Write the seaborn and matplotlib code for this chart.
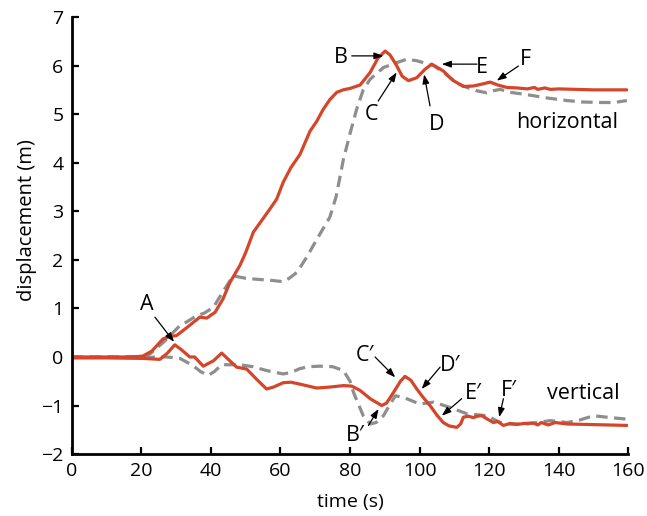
import matplotlib
matplotlib.use("Agg")
import matplotlib.pyplot as plt
import seaborn as sns

# horizontal displacement, solid red series
t_h_red = [0, 10, 18, 20.5, 23, 26.2, 28, 30.1, 33, 36.8, 38.8, 41.2, 43.5, 45.5,
           48.3, 50, 52.2, 55, 57, 58.9, 60.8, 63, 65.6, 68.5, 70.4, 72.3, 74.2,
           76.2, 78, 80, 82.9, 85.8, 88, 90.1, 91.5, 93.4, 95, 96.8, 99.2, 101.5,
           103.5, 106.8, 109.5, 112.6, 115.5, 118, 120.3, 122.5, 125.1, 128, 131,
           133, 134, 136, 137.6, 140, 145, 150, 155, 159.6]
h_red = [0, 0, 0, 0.02, 0.12, 0.37, 0.42, 0.44, 0.6, 0.82, 0.80, 0.92, 1.2, 1.54,
         1.88, 2.15, 2.57, 2.85, 3.05, 3.25, 3.6, 3.9, 4.17, 4.65, 4.85, 5.1, 5.3,
         5.45, 5.5, 5.53, 5.6, 5.86, 6.15, 6.30, 6.22, 6.0, 5.78, 5.69, 5.75, 5.92,
         6.03, 5.89, 5.7, 5.57, 5.58, 5.62, 5.66, 5.6, 5.55, 5.54, 5.52,
         5.55, 5.51, 5.54, 5.51, 5.52, 5.51, 5.5, 5.5, 5.5]

# horizontal displacement, dashed grey series
t_h_grey = [0, 10, 20, 22.4, 26.3, 31, 33, 35.9, 38, 40.7, 43.6, 46.4, 50, 53.1,
            57, 60.8, 62.5, 64.7, 67.5, 69.4, 71.5, 74.2, 76, 78.1, 80, 81.9, 83.8,
            85.8, 89.6, 93.4, 96.3, 99.2, 104, 106.5, 108.8, 111, 113.6, 116.5,
            119.3, 121, 123.2, 126, 129, 132.7, 137, 142.4, 147, 151.9, 156, 159.6]
h_grey = [0, 0, 0.01, 0.06, 0.3, 0.64, 0.72, 0.85, 0.9, 1.02, 1.36, 1.67, 1.62, 1.60,
          1.58, 1.55, 1.62, 1.74, 2.05, 2.29, 2.55, 2.88, 3.3, 4.07, 4.6, 5.1, 5.5,
          5.72, 5.96, 6.06, 6.13, 6.10, 6.0, 5.88, 5.75, 5.63, 5.55, 5.48,
          5.44, 5.48, 5.51, 5.45, 5.42, 5.38, 5.33, 5.28, 5.25, 5.24, 5.24, 5.28]

# vertical displacement, solid red series
t_v_red = [0, 10, 20.5, 25.3, 27.5, 29.6, 31.5, 33.9, 35.3, 37.8, 40.7, 43.1, 45,
           47.4, 50.3, 53, 56, 58, 60.8, 63, 65.6, 68, 70.4, 74.2, 78.1, 80.5, 82.9,
           85.8, 89.1, 90.5, 92.5, 94.5, 95.8, 97.5, 99.2, 101, 103, 105, 106.8,
           108.5, 110.7, 111.8, 112.6, 114, 115.5, 116.5, 117.9, 119.5, 121.2,
           122.5, 124.1, 126, 128, 130, 132.7, 134, 135, 137, 139, 142.4, 148,
           154, 159.6]
v_red = [-0.02, -0.02, -0.03, -0.05, 0.08, 0.25, 0.15, 0.0, 0.0, -0.19, -0.08, 0.08,
         -0.05, -0.21, -0.25, -0.45, -0.66, -0.62, -0.53, -0.52, -0.56, -0.6, -0.64,
         -0.62, -0.59, -0.6, -0.69, -0.86, -1.0, -0.95, -0.73, -0.5, -0.40, -0.48,
         -0.66, -0.83, -1.0, -1.2, -1.35, -1.42, -1.45, -1.38, -1.24, -1.22, -1.25,
         -1.22, -1.21, -1.28, -1.35, -1.33, -1.41, -1.37, -1.39, -1.37, -1.36,
         -1.40, -1.35, -1.40, -1.35, -1.38, -1.39, -1.40, -1.41]

# vertical displacement, dashed grey series
t_v_grey = [0, 10, 20, 27.2, 31.1, 34.9, 37, 39.2, 41, 43.1, 48.3, 52, 56, 60.8, 63,
            65.6, 68, 71.4, 75, 78.1, 80, 81, 83.8, 85.8, 87.5, 89.6, 91.3, 93,
            94.5, 96.3, 100.1, 104, 108.8, 113.6, 119.3, 123.2, 126, 130.8, 134,
            137.6, 140, 142.4, 146, 150, 155, 159.6]
v_grey = [-0.01, -0.01, -0.01, 0.0, -0.03, -0.18, -0.3, -0.38, -0.3, -0.16, -0.16,
          -0.2, -0.28, -0.35, -0.32, -0.24, -0.2, -0.19, -0.2, -0.28, -0.5, -0.73,
          -1.21, -1.38, -1.35, -1.21, -1.0, -0.80, -0.82, -0.86, -0.97, -0.93,
          -1.04, -1.17, -1.21, -1.35, -1.38, -1.38, -1.35, -1.31, -1.33, -1.35,
          -1.3, -1.21, -1.25, -1.28]

# annotation labels: text, text position, arrow tail, arrow tip
labels = ["A", "B", "C", "D", "E", "F", "B\u2032", "C\u2032", "D\u2032", "E\u2032", "F\u2032"]
label_xy = [(21.5, 1.09), (77.4, 6.17), (86.2, 5.0), (104.9, 4.79), (117.9, 5.96),
            (130.4, 6.13), (81.4, -1.62), (84.3, 0.03), (108.8, -0.18),
            (115.5, -0.76), (125.6, -0.69)]
arrow_tail = [(23.9, 0.82), (80.5, 6.2), (88.1, 5.27), (103.0, 5.17), (116.5, 6.03),
              (128.4, 5.99), (85.3, -1.41), (87.2, 0.0), (105.9, -0.21),
              (112.1, -0.86), (124.1, -0.86)]
arrow_tip = [(29.4, 0.31), (89.6, 6.2), (93.4, 5.86), (101.3, 5.82), (106.4, 6.03),
             (122.2, 5.69), (88.2, -1.07), (93.0, -0.42), (100.6, -0.66),
             (106.4, -1.21), (122.9, -1.24)]

RED = "#d5452a"
GREY = "#8e8e8e"

sns.set_style("ticks", {"axes.edgecolor": "black", "text.color": "black",
                        "axes.labelcolor": "black", "xtick.color": "black",
                        "ytick.color": "black"})
plt.rcParams["font.family"] = ["Open Sans", "DejaVu Sans"]

fig, ax = plt.subplots(figsize=(6.47, 5.16), dpi=100)
fig.subplots_adjust(left=0.111, right=0.971, bottom=0.12, top=0.967)

dash = (0, (3.6, 2.0))
sns.lineplot(x=t_h_grey, y=h_grey, ax=ax, color=GREY, lw=2.3, linestyle=dash)
sns.lineplot(x=t_v_grey, y=v_grey, ax=ax, color=GREY, lw=2.3, linestyle=dash)
sns.lineplot(x=t_h_red, y=h_red, ax=ax, color=RED, lw=2.3)
sns.lineplot(x=t_v_red, y=v_red, ax=ax, color=RED, lw=2.3)

for lab, xy, tail, tip in zip(labels, label_xy, arrow_tail, arrow_tip):
    ax.text(xy[0], xy[1], lab, ha="center", va="center", fontsize=15.5)
    ax.annotate("", xy=tip, xytext=tail,
                arrowprops=dict(arrowstyle="-|>,head_length=0.55,head_width=0.2",
                                mutation_scale=10, color="black", lw=0.9,
                                shrinkA=0, shrinkB=0))

ax.text(142.4, 4.83, "horizontal", ha="center", va="center", fontsize=15.5)
ax.text(147.1, -0.76, "vertical", ha="center", va="center", fontsize=15.5)

ax.set_xlim(0, 160)
ax.set_ylim(-2, 7)
ax.set_xticks(range(0, 161, 20))
ax.set_yticks(range(-2, 8))
ax.set_xlabel("time (s)", fontsize=14, labelpad=9)
ax.set_ylabel("displacement (m)", fontsize=14.5)
ax.yaxis.set_label_coords(-0.063, 0.535)
ax.tick_params(direction="in", length=5, width=1.6, labelsize=14, pad=6)
for side in ["left", "bottom"]:
    ax.spines[side].set_linewidth(2.0)
sns.despine(ax=ax)

fig.savefig("out.png", dpi=100)
